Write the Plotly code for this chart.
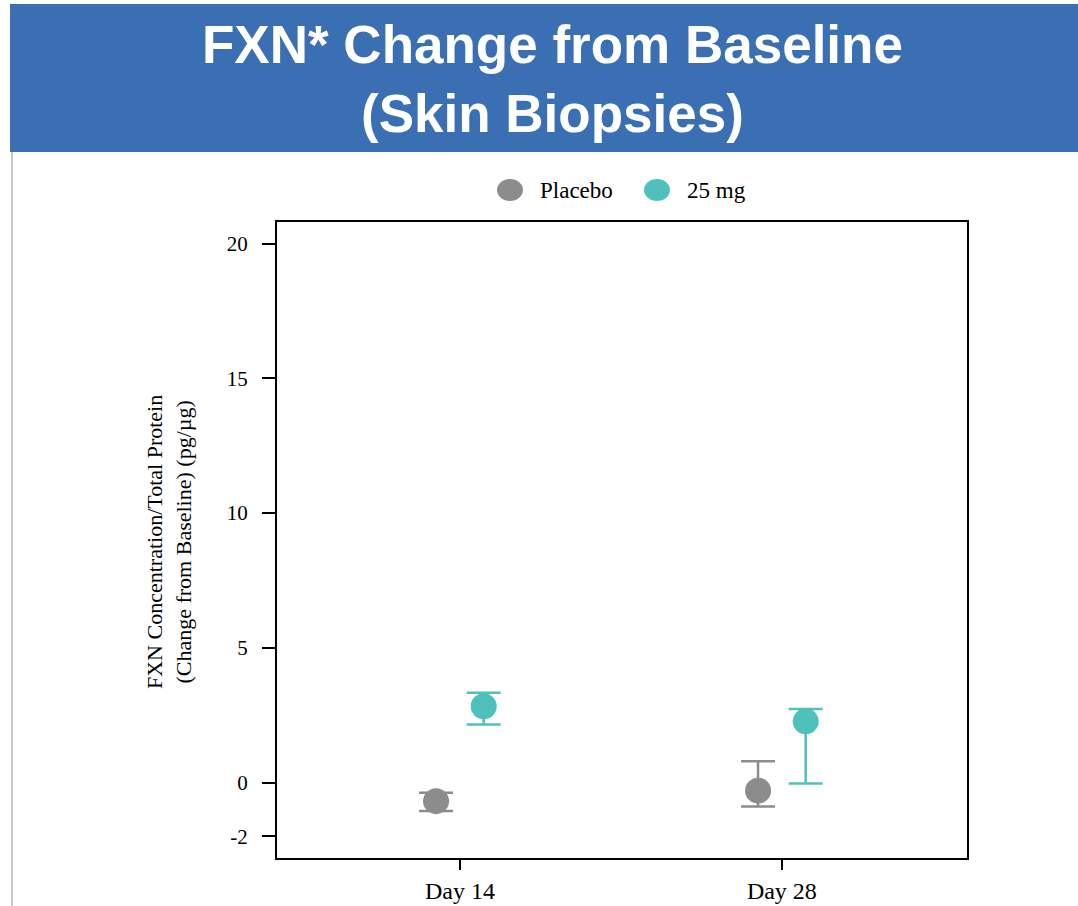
import plotly.graph_objects as go

categories = ["Day 14", "Day 28"]
series_names = ["Placebo", "25 mg"]
placebo_mean = [-0.69, -0.30]
placebo_err_plus = [0.31, 1.09]
placebo_err_minus = [0.37, 0.59]
dose_mean = [2.83, 2.27]
dose_err_plus = [0.50, 0.46]
dose_err_minus = [0.68, 2.31]
y_ticks = [-2, 0, 5, 10, 15, 20]
y_tick_labels = ["-2", "0", "5", "10", "15", "20"]

GRAY = "#8C8C8C"
TEAL = "#4FC1BD"
BANNER = "#3A70B3"
SERIF = "Liberation Serif, Times New Roman, serif"

W, H = 1078, 906
L, R, T, B = 277, 967, 222, 858
pw, ph = R - L, B - T


def px(x):
    return (x - L) / pw


def py(y):
    return (B - y) / ph


xpos = list(range(len(categories)))
off = 0.074
colors = [GRAY, TEAL]

fig = go.Figure()
fig.add_trace(go.Scatter(
    x=[v - off for v in xpos], y=placebo_mean, mode="markers", name=series_names[0],
    marker=dict(color=GRAY, size=26),
    error_y=dict(type="data", symmetric=False, array=placebo_err_plus,
                 arrayminus=placebo_err_minus, color=GRAY, thickness=2.5, width=17),
))
fig.add_trace(go.Scatter(
    x=[v + off for v in xpos], y=dose_mean, mode="markers", name=series_names[1],
    marker=dict(color=TEAL, size=26),
    error_y=dict(type="data", symmetric=False, array=dose_err_plus,
                 arrayminus=dose_err_minus, color=TEAL, thickness=2.5, width=17),
))

shapes = [
    dict(type="rect", xref="paper", yref="paper", x0=px(10), x1=px(1085),
         y0=py(152), y1=py(4), fillcolor=BANNER, line=dict(width=0), layer="below"),
    dict(type="line", xref="paper", yref="paper", x0=px(12), x1=px(12),
         y0=py(152), y1=py(912), line=dict(color="#C8C8C8", width=2)),
]

annotations = [
    dict(text="<b>FXN* Change from Baseline<br>(Skin Biopsies)</b>", xref="paper", yref="paper",
         x=px(552), y=py(79), xanchor="center", yanchor="middle", showarrow=False,
         font=dict(family="Liberation Sans, Arial, sans-serif", size=53, color="white")),
    dict(text="FXN Concentration/Total Protein<br>(Change from Baseline) (pg/µg)",
         xref="paper", yref="paper", x=px(169), y=py(542), textangle=-90,
         xanchor="center", yanchor="middle", showarrow=False,
         font=dict(family=SERIF, size=22, color="black")),
]

# legend built from series names (large circular symbols)
legend_marker_x = [510, 657]
legend_text_x = [538, 685]
legend_y = 190
for name, col, mx, tx in zip(series_names, colors, legend_marker_x, legend_text_x):
    shapes.append(dict(type="circle", xref="paper", yref="paper",
                       x0=px(mx - 13), x1=px(mx + 13), y0=py(legend_y + 11), y1=py(legend_y - 11),
                       fillcolor=col, line=dict(width=0)))
    annotations.append(dict(text=name, xref="paper", yref="paper", x=px(tx), y=py(legend_y),
                            xanchor="left", yanchor="middle", showarrow=False,
                            font=dict(family=SERIF, size=23, color="black")))

fig.update_layout(
    width=W, height=H,
    margin=dict(l=L, r=W - R, t=T, b=H - B, pad=0, autoexpand=False),
    paper_bgcolor="white", plot_bgcolor="white",
    shapes=shapes, annotations=annotations,
    showlegend=False,
    xaxis=dict(range=[-0.568, 1.575], tickvals=xpos, ticktext=categories,
               automargin=False,
               showgrid=False, zeroline=False, showline=True, linecolor="black",
               linewidth=2, mirror=True, ticks="outside", ticklen=10, tickwidth=1.5,
               tickcolor="black", tickfont=dict(family=SERIF, size=24, color="black")),
    yaxis=dict(range=[-2.8, 20.8], tickvals=y_ticks, ticktext=y_tick_labels,
               showgrid=False, zeroline=False, automargin=False,
               showline=True, linecolor="black", linewidth=2, mirror=True,
               ticks="outside", ticklen=13, tickwidth=1.5, tickcolor="black",
               ticklabelstandoff=10,
               tickfont=dict(family=SERIF, size=21, color="black")),
)

fig.write_html(
    "out.html",
    config={"displayModeBar": False},
    post_script=(
        "document.body.style.margin='0px';"
        "document.documentElement.style.overflow='hidden';"
        "document.body.style.overflow='hidden';"
    ),
)
